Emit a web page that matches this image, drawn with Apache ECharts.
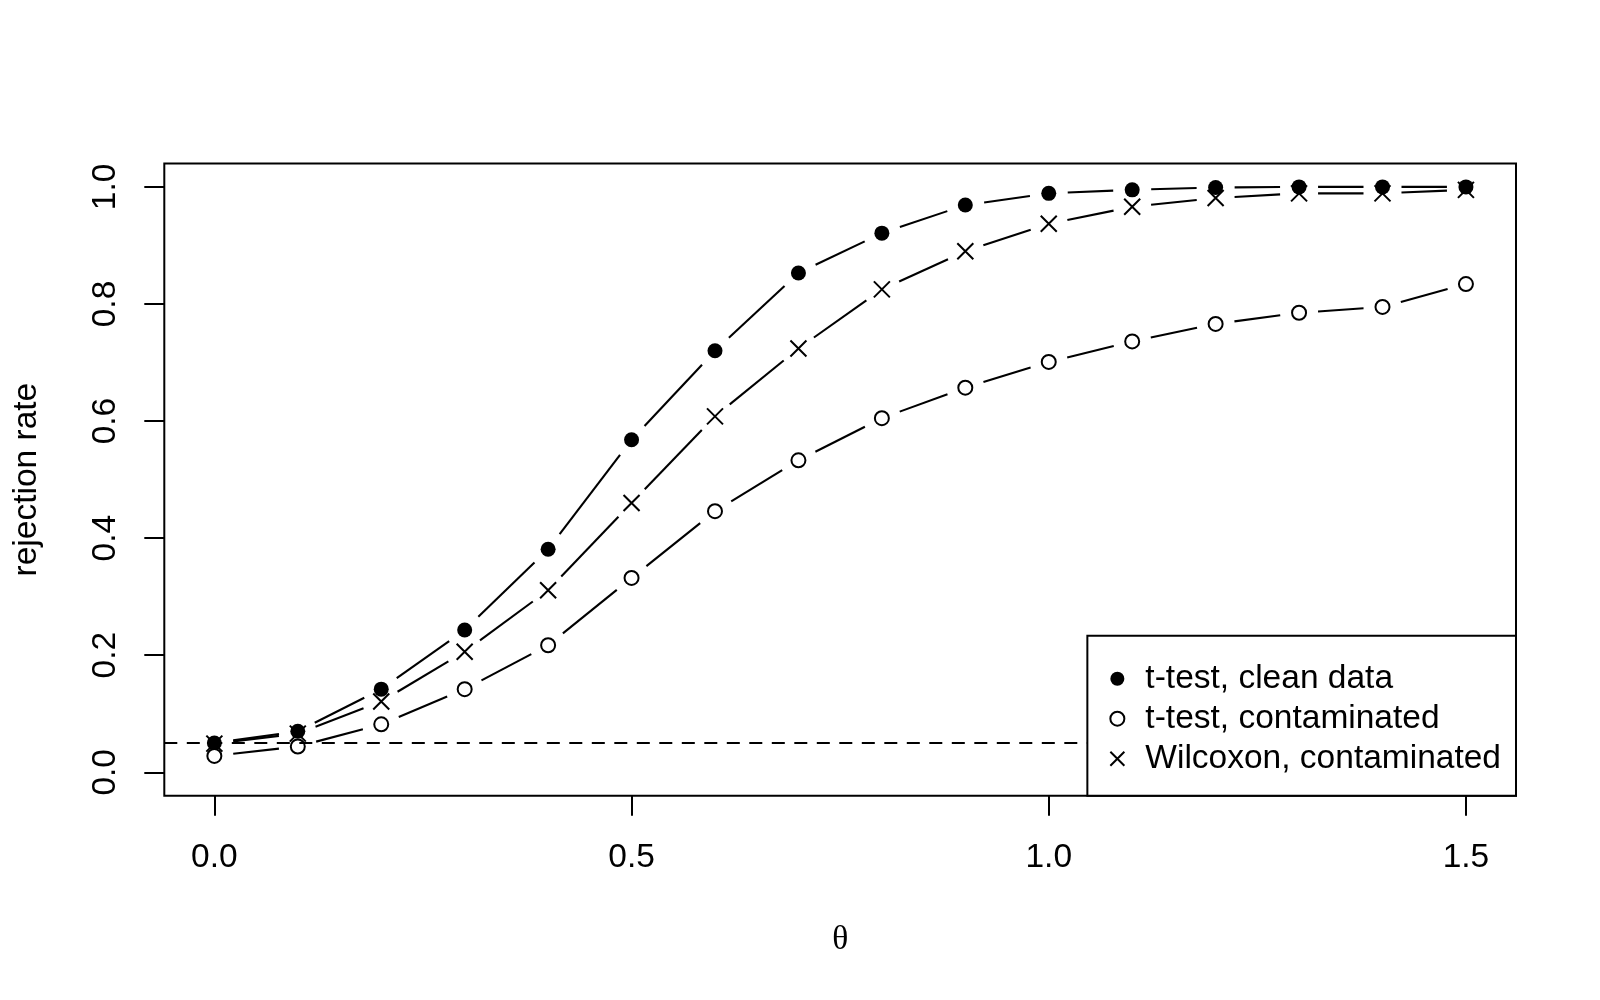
<!DOCTYPE html>
<html>
<head>
<meta charset="utf-8">
<script src="https://cdn.jsdelivr.net/npm/echarts/dist/echarts.min.js"></script>
<style>
html,body{margin:0;padding:0;background:#fff;}
#chart{width:1600px;height:1000px;}
</style>
</head>
<body>
<div id="chart"></div>
<script>
// ---- data ----
const theta = [0.0, 0.1, 0.2, 0.3, 0.4, 0.5, 0.6, 0.7, 0.8, 0.9, 1.0, 1.1, 1.2, 1.3, 1.4, 1.5];
const tClean = [0.050, 0.070, 0.142, 0.243, 0.381, 0.568, 0.720, 0.853, 0.921, 0.969, 0.989, 0.995, 0.999, 1.000, 1.000, 1.000];
const tContam = [0.028, 0.044, 0.082, 0.142, 0.217, 0.332, 0.446, 0.533, 0.605, 0.657, 0.701, 0.736, 0.766, 0.785, 0.795, 0.834];
const wilcoxon = [0.049, 0.066, 0.121, 0.206, 0.311, 0.460, 0.608, 0.724, 0.825, 0.890, 0.937, 0.966, 0.981, 0.989, 0.989, 0.995];
const alphaLevel = 0.05;
const xTicks = [0, 0.5, 1.0, 1.5];
const yTicks = [0, 0.2, 0.4, 0.6, 0.8, 1.0];
const seriesNames = ['t-test, clean data', 't-test, contaminated', 'Wilcoxon, contaminated'];

const FONT = "'Liberation Sans', Arial, Helvetica, sans-serif";
const FS = 33.5;
const GAP = 19;

function pts(vals) { return theta.map((t, i) => [t, vals[i]]); }

function segRender(vals) {
  return function (params, api) {
    const i = params.dataIndex;
    if (i === 0) return { type: 'group', children: [] };
    const p0 = api.coord([theta[i - 1], vals[i - 1]]);
    const p1 = api.coord([theta[i], vals[i]]);
    const dx = p1[0] - p0[0], dy = p1[1] - p0[1];
    const L = Math.hypot(dx, dy);
    if (L <= 2 * GAP) return { type: 'group', children: [] };
    const f = GAP / L;
    return {
      type: 'line',
      shape: { x1: p0[0] + dx * f, y1: p0[1] + dy * f, x2: p1[0] - dx * f, y2: p1[1] - dy * f },
      style: { stroke: '#000', lineWidth: 2.1 }
    };
  };
}

function segSeries(id, vals) {
  return {
    type: 'custom', name: id, data: pts(vals), encode: { x: 0, y: 1 },
    renderItem: segRender(vals), silent: true, z: 2, clip: false
  };
}

const chart = echarts.init(document.getElementById('chart'), null, { renderer: 'canvas' });
chart.setOption({
  backgroundColor: '#fff',
  animation: false,
  grid: {
    left: 164.3, right: 84, top: 163.5, bottom: 204.3,
    show: true, borderColor: '#000', borderWidth: 2, backgroundColor: 'transparent'
  },
  xAxis: {
    type: 'value', min: -0.06, max: 1.56,
    name: 'θ', nameLocation: 'middle', nameGap: 128,
    nameTextStyle: { fontFamily: "'Liberation Serif', 'DejaVu Serif', serif", fontSize: FS, color: '#000' },
    axisLine: { show: false, onZero: false },
    axisTick: { show: true, length: 20, lineStyle: { color: '#000', width: 2 }, customValues: xTicks },
    axisLabel: { show: true, margin: 45, fontFamily: FONT, fontSize: FS, color: '#000',
      customValues: xTicks, formatter: v => v.toFixed(1) },
    splitLine: { show: false }
  },
  yAxis: {
    type: 'value', min: -0.04, max: 1.04,
    name: 'rejection rate', nameLocation: 'middle', nameGap: 121, nameRotate: 90,
    nameTextStyle: { fontFamily: FONT, fontSize: FS, color: '#000' },
    axisLine: { show: false, onZero: false },
    axisTick: { show: true, length: 20, lineStyle: { color: '#000', width: 2 }, customValues: yTicks },
    axisLabel: { show: true, margin: 42, rotate: 90, fontFamily: FONT, fontSize: FS, color: '#000',
      customValues: yTicks, formatter: v => v.toFixed(1) },
    splitLine: { show: false }
  },
  legend: {
    orient: 'vertical', right: 84, bottom: 204.3,
    data: seriesNames,
    selectedMode: false,
    itemWidth: 46, itemHeight: 14, itemGap: 0,
    padding: [23, 15, 17, 22],
    backgroundColor: '#fff', borderColor: '#000', borderWidth: 2, borderRadius: 0,
    textStyle: { fontFamily: FONT, fontSize: FS, color: '#000', lineHeight: 40 },
    z: 10
  },
  series: [
    segSeries('seg-clean', tClean),
    segSeries('seg-contam', tContam),
    segSeries('seg-wilcox', wilcoxon),
    {
      type: 'scatter', name: seriesNames[0], data: pts(tClean),
      symbol: 'circle', symbolSize: 15,
      itemStyle: { color: '#000', opacity: 1 }, z: 3,
      markLine: {
        silent: true, symbol: ['none', 'none'], label: { show: false },
        lineStyle: { color: '#000', width: 2, type: [13, 9.5] },
        data: [{ yAxis: alphaLevel }]
      }
    },
    {
      type: 'scatter', name: seriesNames[1], data: pts(tContam),
      symbol: 'emptyCircle', symbolSize: 14,
      itemStyle: { color: '#000', borderWidth: 2, opacity: 1 }, z: 3
    },
    {
      type: 'scatter', name: seriesNames[2], data: pts(wilcoxon),
      symbol: 'path://M0,0L10,10M0,10L10,0', symbolSize: 16,
      itemStyle: { color: 'rgba(0,0,0,0)', borderColor: '#000', borderWidth: 2, opacity: 1 }, z: 3
    }
  ]
});
</script>
</body>
</html>
